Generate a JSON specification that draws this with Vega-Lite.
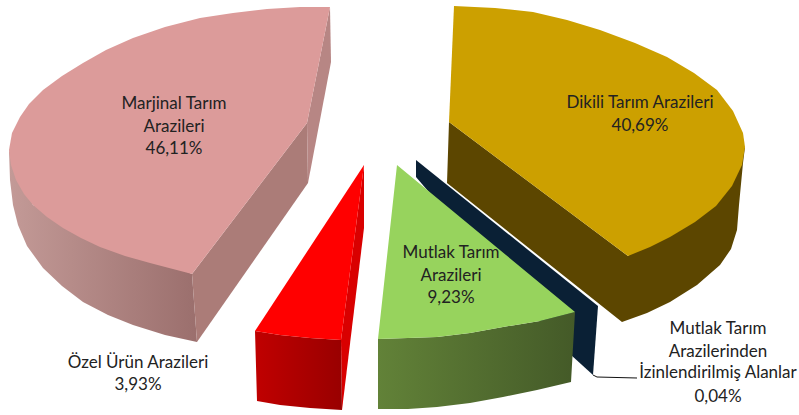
{"$schema":"https://vega.github.io/schema/vega-lite/v6.json","width":799,"height":415,"padding":0,"autosize":"none","background":"white","view":{"stroke":null},
"datasets":{"shapes":[
{"p":"mSide","s":1,"x":9,"y":150},{"p":"mSide","s":2,"x":10,"y":180},{"p":"mSide","s":3,"x":13,"y":205},{"p":"mSide","s":4,"x":18,"y":225},{"p":"mSide","s":5,"x":27,"y":246},{"p":"mSide","s":6,"x":43,"y":268},{"p":"mSide","s":7,"x":62,"y":286},{"p":"mSide","s":8,"x":83,"y":302},{"p":"mSide","s":9,"x":108,"y":315},{"p":"mSide","s":10,"x":133,"y":325},{"p":"mSide","s":11,"x":165,"y":335},{"p":"mSide","s":12,"x":197,"y":342},{"p":"mSide","s":13,"x":192,"y":274},{"p":"mSide","s":14,"x":33,"y":205},
{"p":"mWall2","s":1,"x":307,"y":123},{"p":"mWall2","s":2,"x":308,"y":183},{"p":"mWall2","s":3,"x":197,"y":342},{"p":"mWall2","s":4,"x":192,"y":274},
{"p":"mWall1","s":1,"x":330,"y":7},{"p":"mWall1","s":2,"x":331,"y":62},{"p":"mWall1","s":3,"x":308,"y":183},{"p":"mWall1","s":4,"x":307,"y":123},
{"p":"mTop","s":1,"x":330,"y":7},{"p":"mTop","s":2,"x":300,"y":7},{"p":"mTop","s":3,"x":267,"y":9},{"p":"mTop","s":4,"x":233,"y":13},{"p":"mTop","s":5,"x":200,"y":18},{"p":"mTop","s":6,"x":165,"y":27},{"p":"mTop","s":7,"x":133,"y":38},{"p":"mTop","s":8,"x":106,"y":50},{"p":"mTop","s":9,"x":83,"y":63},{"p":"mTop","s":10,"x":62,"y":76},{"p":"mTop","s":11,"x":43,"y":90},{"p":"mTop","s":12,"x":29,"y":104},{"p":"mTop","s":13,"x":20,"y":117},{"p":"mTop","s":14,"x":12,"y":133},{"p":"mTop","s":15,"x":9,"y":150},{"p":"mTop","s":16,"x":11,"y":165},{"p":"mTop","s":17,"x":16,"y":180},{"p":"mTop","s":18,"x":24,"y":194},{"p":"mTop","s":19,"x":33,"y":205},{"p":"mTop","s":20,"x":47,"y":217},{"p":"mTop","s":21,"x":63,"y":228},{"p":"mTop","s":22,"x":81,"y":238},{"p":"mTop","s":23,"x":100,"y":247},{"p":"mTop","s":24,"x":125,"y":256},{"p":"mTop","s":25,"x":150,"y":263},{"p":"mTop","s":26,"x":192,"y":274},{"p":"mTop","s":27,"x":307,"y":123},
{"p":"rWall","s":1,"x":364,"y":165},{"p":"rWall","s":2,"x":364,"y":228},{"p":"rWall","s":3,"x":342,"y":410},{"p":"rWall","s":4,"x":341,"y":340},
{"p":"rFront","s":1,"x":255,"y":331},{"p":"rFront","s":2,"x":257,"y":401},{"p":"rFront","s":3,"x":280,"y":405},{"p":"rFront","s":4,"x":310,"y":408},{"p":"rFront","s":5,"x":342,"y":410},{"p":"rFront","s":6,"x":341,"y":340},{"p":"rFront","s":7,"x":310,"y":338},{"p":"rFront","s":8,"x":280,"y":335},
{"p":"rTop","s":1,"x":364,"y":165},{"p":"rTop","s":2,"x":341,"y":340},{"p":"rTop","s":3,"x":310,"y":338},{"p":"rTop","s":4,"x":280,"y":335},{"p":"rTop","s":5,"x":255,"y":331},
{"p":"nWall","s":1,"x":416,"y":160},{"p":"nWall","s":2,"x":598,"y":306},{"p":"nWall","s":3,"x":593,"y":375},{"p":"nWall","s":4,"x":560,"y":345},{"p":"nWall","s":5,"x":416,"y":177},
{"p":"gSide","s":1,"x":378,"y":339},{"p":"gSide","s":2,"x":378,"y":409},{"p":"gSide","s":3,"x":408,"y":409},{"p":"gSide","s":4,"x":437,"y":407},{"p":"gSide","s":5,"x":470,"y":403},{"p":"gSide","s":6,"x":503,"y":397},{"p":"gSide","s":7,"x":537,"y":390},{"p":"gSide","s":8,"x":571,"y":382},{"p":"gSide","s":9,"x":575,"y":312},{"p":"gSide","s":10,"x":540,"y":321},{"p":"gSide","s":11,"x":503,"y":327},{"p":"gSide","s":12,"x":470,"y":333},{"p":"gSide","s":13,"x":437,"y":337},
{"p":"gTop","s":1,"x":397,"y":165},{"p":"gTop","s":2,"x":575,"y":312},{"p":"gTop","s":3,"x":540,"y":321},{"p":"gTop","s":4,"x":503,"y":327},{"p":"gTop","s":5,"x":470,"y":333},{"p":"gTop","s":6,"x":437,"y":337},{"p":"gTop","s":7,"x":408,"y":338},{"p":"gTop","s":8,"x":378,"y":339},
{"p":"oSide","s":1,"x":449,"y":122},{"p":"oSide","s":2,"x":447,"y":183},{"p":"oSide","s":3,"x":622,"y":322},{"p":"oSide","s":4,"x":647,"y":313},{"p":"oSide","s":5,"x":670,"y":302},{"p":"oSide","s":6,"x":697,"y":285},{"p":"oSide","s":7,"x":720,"y":265},{"p":"oSide","s":8,"x":731,"y":249},{"p":"oSide","s":9,"x":737,"y":230},{"p":"oSide","s":10,"x":739,"y":205},{"p":"oSide","s":11,"x":743,"y":163},{"p":"oSide","s":12,"x":745,"y":147},{"p":"oSide","s":13,"x":628,"y":256},
{"p":"oTop","s":1,"x":454,"y":6},{"p":"oTop","s":2,"x":495,"y":8},{"p":"oTop","s":3,"x":533,"y":12},{"p":"oTop","s":4,"x":567,"y":20},{"p":"oTop","s":5,"x":600,"y":30},{"p":"oTop","s":6,"x":635,"y":43},{"p":"oTop","s":7,"x":667,"y":57},{"p":"oTop","s":8,"x":694,"y":73},{"p":"oTop","s":9,"x":717,"y":90},{"p":"oTop","s":10,"x":733,"y":111},{"p":"oTop","s":11,"x":743,"y":133},{"p":"oTop","s":12,"x":745,"y":147},{"p":"oTop","s":13,"x":742,"y":165},{"p":"oTop","s":14,"x":732,"y":186},{"p":"oTop","s":15,"x":716,"y":206},{"p":"oTop","s":16,"x":695,"y":222},{"p":"oTop","s":17,"x":670,"y":237},{"p":"oTop","s":18,"x":650,"y":247},{"p":"oTop","s":19,"x":628,"y":256},{"p":"oTop","s":20,"x":449,"y":122},
{"p":"leader","s":1,"x":593,"y":375},{"p":"leader","s":2,"x":597,"y":377},{"p":"leader","s":3,"x":637,"y":378}
],
"labels":[
{"t":"Marjinal Tarım","x":174,"y":109},{"t":"Arazileri","x":174,"y":132},{"t":"46,11%","x":174,"y":154},
{"t":"Dikili Tarım Arazileri","x":640,"y":108},{"t":"40,69%","x":640,"y":131},
{"t":"Mutlak Tarım","x":451,"y":258},{"t":"Arazileri","x":451,"y":281},{"t":"9,23%","x":451,"y":303},
{"t":"Özel Ürün Arazileri","x":138,"y":368},{"t":"3,93%","x":138,"y":390},
{"t":"Mutlak Tarım","x":718,"y":334},{"t":"Arazilerinden","x":718,"y":357},{"t":"İzinlendirilmiş Alanlar","x":718,"y":378},{"t":"0,04%","x":718,"y":402}
]},
"encoding":{"x":{"field":"x","type":"quantitative","scale":{"domain":[0,799],"nice":false,"zero":false},"axis":null},"y":{"field":"y","type":"quantitative","scale":{"domain":[415,0],"nice":false,"zero":false},"axis":null},"order":{"field":"s","type":"quantitative"}},
"layer":[
{"data":{"name":"shapes"},"transform":[{"filter":"datum.p=='mSide'"}],"mark":{"type":"line","strokeWidth":0,"fill":{"gradient":"linear","x1":0,"y1":0,"x2":1,"y2":0,"stops":[{"offset":0,"color":"#c39a97"},{"offset":1,"color":"#9b6f6d"}]}}},
{"data":{"name":"shapes"},"transform":[{"filter":"datum.p=='mWall2'"}],"mark":{"type":"line","strokeWidth":0,"fill":"#ab7c78"}},
{"data":{"name":"shapes"},"transform":[{"filter":"datum.p=='mWall1'"}],"mark":{"type":"line","strokeWidth":0,"fill":"#b78684"}},
{"data":{"name":"shapes"},"transform":[{"filter":"datum.p=='mTop'"}],"mark":{"type":"line","strokeWidth":0,"fill":"#dc9b9a"}},
{"data":{"name":"shapes"},"transform":[{"filter":"datum.p=='rWall'"}],"mark":{"type":"line","strokeWidth":0,"fill":"#d90000"}},
{"data":{"name":"shapes"},"transform":[{"filter":"datum.p=='rFront'"}],"mark":{"type":"line","strokeWidth":0,"fill":{"gradient":"linear","x1":0,"y1":0,"x2":1,"y2":0,"stops":[{"offset":0,"color":"#c00000"},{"offset":1,"color":"#990000"}]}}},
{"data":{"name":"shapes"},"transform":[{"filter":"datum.p=='rTop'"}],"mark":{"type":"line","strokeWidth":0,"fill":"#ff0000"}},
{"data":{"name":"shapes"},"transform":[{"filter":"datum.p=='nWall'"}],"mark":{"type":"line","strokeWidth":0,"fill":"#0a2035"}},
{"data":{"name":"shapes"},"transform":[{"filter":"datum.p=='gSide'"}],"mark":{"type":"line","strokeWidth":0,"fill":{"gradient":"linear","x1":0,"y1":0,"x2":1,"y2":0,"stops":[{"offset":0,"color":"#628238"},{"offset":1,"color":"#445a28"}]}}},
{"data":{"name":"shapes"},"transform":[{"filter":"datum.p=='gTop'"}],"mark":{"type":"line","strokeWidth":0,"fill":"#97d35d"}},
{"data":{"name":"shapes"},"transform":[{"filter":"datum.p=='oSide'"}],"mark":{"type":"line","strokeWidth":0,"fill":"#5c4600"}},
{"data":{"name":"shapes"},"transform":[{"filter":"datum.p=='oTop'"}],"mark":{"type":"line","strokeWidth":0,"fill":"#cca000"}},
{"data":{"name":"shapes"},"transform":[{"filter":"datum.p=='leader'"}],"mark":{"type":"line","strokeWidth":1,"stroke":"#111111"}},
{"data":{"name":"labels"},"mark":{"type":"text","font":"Lato","fontSize":17,"align":"center","baseline":"alphabetic","color":"#222222"},"encoding":{"text":{"field":"t"},"order":{"value":null}}}
]}
